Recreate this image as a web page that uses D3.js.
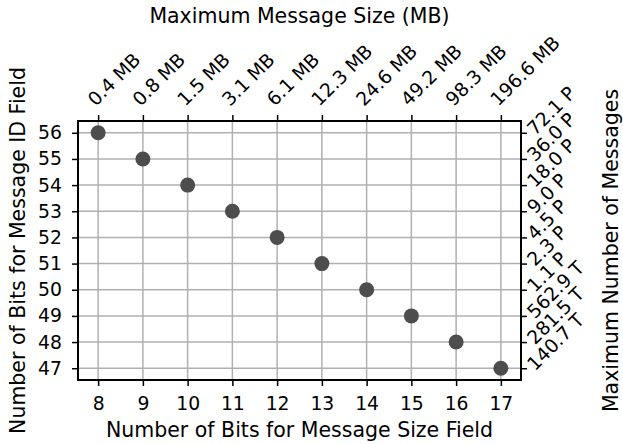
<!DOCTYPE html>
<html>
<head>
<meta charset="utf-8">
<script src="https://cdn.jsdelivr.net/npm/d3@7"></script>
<style>
  html, body { margin: 0; padding: 0; background: #ffffff; }
  svg { display: block; font-family: "DejaVu Sans", sans-serif; }
</style>
</head>
<body>
<script>
// ---- data ----
const sizeBits = [8, 9, 10, 11, 12, 13, 14, 15, 16, 17];
const idBits = [56, 55, 54, 53, 52, 51, 50, 49, 48, 47];
const sizeLabels = ["0.4 MB", "0.8 MB", "1.5 MB", "3.1 MB", "6.1 MB", "12.3 MB", "24.6 MB", "49.2 MB", "98.3 MB", "196.6 MB"];
const yTicks = [47, 48, 49, 50, 51, 52, 53, 54, 55, 56];
const countLabels = ["140.7 T", "281.5 T", "562.9 T", "1.1 P", "2.3 P", "4.5 P", "9.0 P", "18.0 P", "36.0 P", "72.1 P"];
const xTitle = "Number of Bits for Message Size Field";
const yTitle = "Number of Bits for Message ID Field";
const topTitle = "Maximum Message Size (MB)";
const rightTitle = "Maximum Number of Messages";

// ---- layout ----
const W = 623, H = 444;
const L = 78, R = 521, T = 121, B = 380;
const tickFont = 18.8, labelFont = 20.5;

const svg = d3.select("body").append("svg").attr("width", W).attr("height", H);

const x = d3.scaleLinear().domain([7.55, 17.45]).range([L, R]);
const y = d3.scaleLinear().domain([46.55, 56.45]).range([B, T]);

// grid
const grid = svg.append("g").attr("stroke", "#b0b0b0").attr("stroke-width", 1.5);
grid.selectAll("line.gx").data(sizeBits).join("line")
  .attr("x1", d => x(d)).attr("x2", d => x(d)).attr("y1", T).attr("y2", B);
grid.selectAll("line.gy").data(yTicks).join("line")
  .attr("y1", d => y(d)).attr("y2", d => y(d)).attr("x1", L).attr("x2", R);

// axes
function styleAxis(g) {
  g.select(".domain").remove();
  g.selectAll(".tick line").attr("stroke", "#000").attr("stroke-width", 1.5);
  g.selectAll(".tick text").attr("fill", "#000").style("font-size", tickFont + "px")
    .style("font-family", "DejaVu Sans, sans-serif");
}

const xAxis = svg.append("g").attr("transform", `translate(0,${B})`)
  .call(d3.axisBottom(x).tickValues(sizeBits).tickFormat(d3.format("d")).tickSize(6).tickPadding(11));
styleAxis(xAxis);

const yAxis = svg.append("g").attr("transform", `translate(${L},0)`)
  .call(d3.axisLeft(y).tickValues(yTicks).tickFormat(d3.format("d")).tickSize(6).tickPadding(10));
styleAxis(yAxis);

const topAxis = svg.append("g").attr("transform", `translate(0,${T})`)
  .call(d3.axisTop(x).tickValues(sizeBits).tickFormat((d, i) => sizeLabels[i]).tickSize(6));
styleAxis(topAxis);
topAxis.selectAll(".tick text")
  .attr("x", null).attr("y", null).attr("dy", null)
  .attr("text-anchor", "start")
  .attr("transform", "translate(-3,-14) rotate(-45)");

const rightAxis = svg.append("g").attr("transform", `translate(${R},0)`)
  .call(d3.axisRight(y).tickValues(yTicks).tickFormat((d, i) => countLabels[i]).tickSize(6));
styleAxis(rightAxis);
rightAxis.selectAll(".tick text")
  .attr("x", null).attr("y", null).attr("dy", null)
  .attr("text-anchor", "start")
  .attr("transform", "translate(14,3) rotate(-45)");

// points
svg.append("g").selectAll("circle").data(sizeBits).join("circle")
  .attr("cx", d => x(d)).attr("cy", (d, i) => y(idBits[i]))
  .attr("r", 7.5).attr("fill", "#4d4d4d");

// frame
svg.append("rect").attr("x", L).attr("y", T).attr("width", R - L).attr("height", B - T)
  .attr("fill", "none").attr("stroke", "#000").attr("stroke-width", 2);

// titles
svg.append("text").attr("x", (L + R) / 2).attr("y", 437).attr("text-anchor", "middle")
  .style("font-size", labelFont + "px").text(xTitle);
svg.append("text").attr("x", (L + R) / 2).attr("y", 23).attr("text-anchor", "middle")
  .style("font-size", labelFont + "px").text(topTitle);
svg.append("text").attr("transform", `translate(25,${(T + B) / 2}) rotate(-90)`).attr("text-anchor", "middle")
  .style("font-size", labelFont + "px").text(yTitle);
svg.append("text").attr("transform", `translate(618,${(T + B) / 2}) rotate(-90)`).attr("text-anchor", "middle")
  .style("font-size", labelFont + "px").text(rightTitle);
</script>
</body>
</html>
